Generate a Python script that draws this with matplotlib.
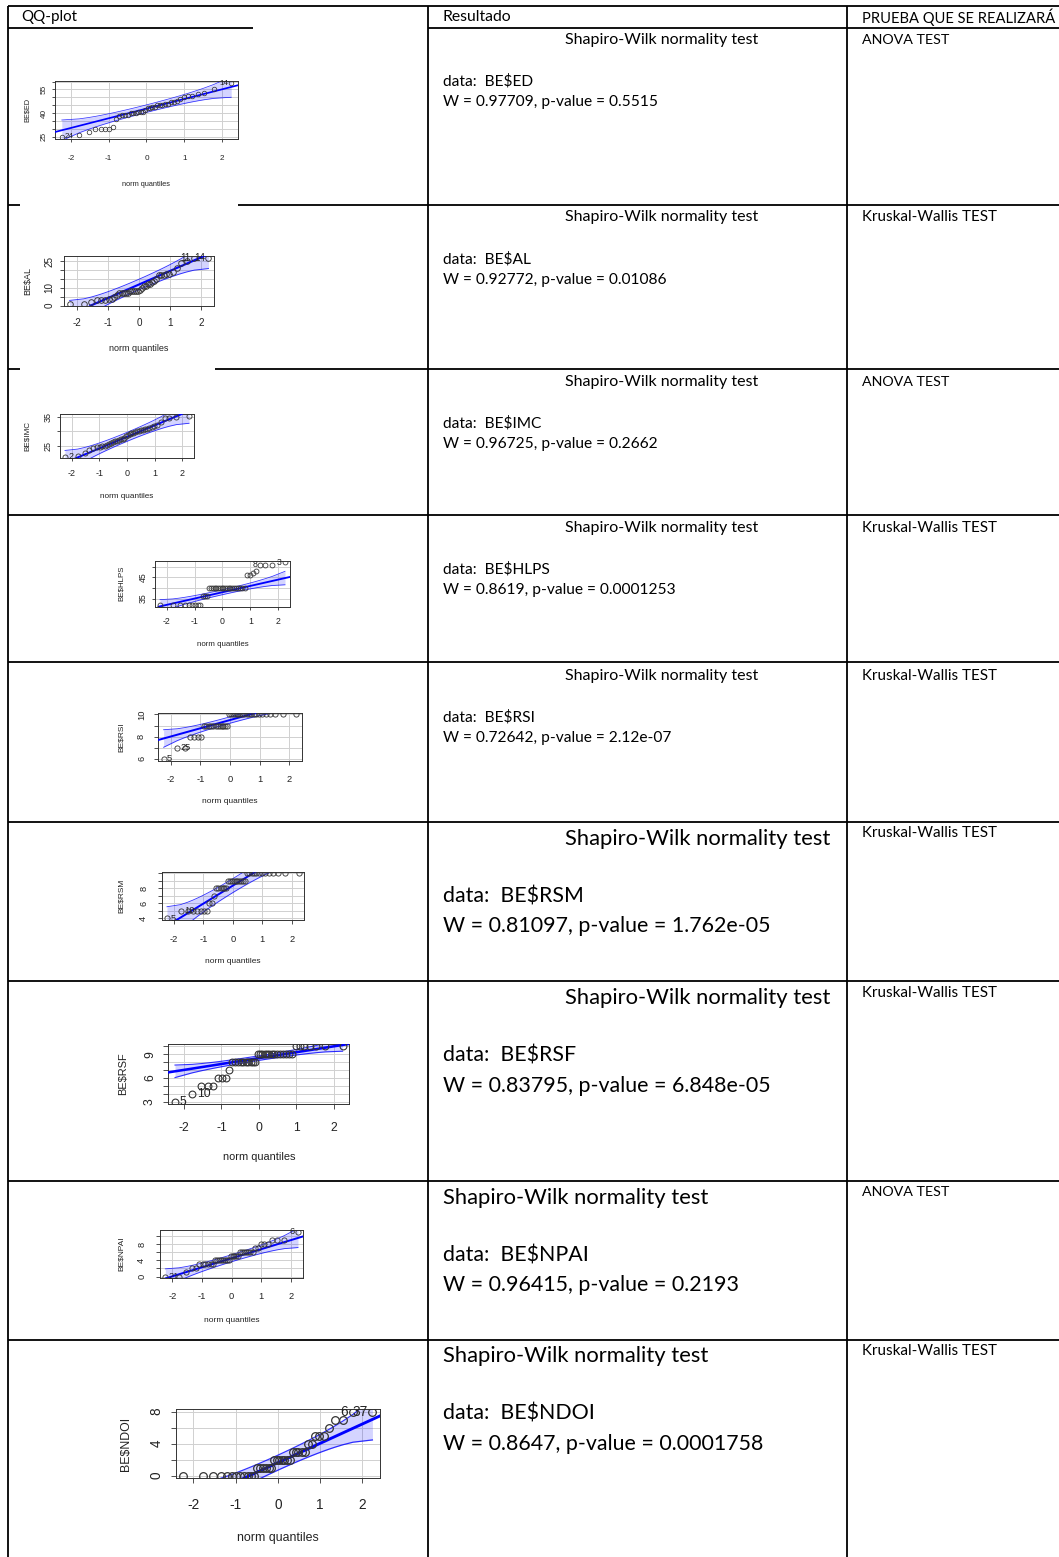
import matplotlib
matplotlib.use("Agg")
import matplotlib.pyplot as plt
import numpy as np
from statistics import NormalDist

# ---------------- data ----------------
header = ["QQ-plot", "Resultado", "PRUEBA QUE SE REALIZARÁ"]
variables = ["ED", "AL", "IMC", "HLPS", "RSI", "RSM", "RSF", "NPAI", "NDOI"]
w_values = ["0.97709", "0.92772", "0.96725", "0.8619", "0.72642",
            "0.81097", "0.83795", "0.96415", "0.8647"]
p_values = ["0.5515", "0.01086", "0.2662", "0.0001253", "2.12e-07",
            "1.762e-05", "6.848e-05", "0.2193", "0.0001758"]
tests = ["ANOVA TEST", "Kruskal-Wallis TEST", "ANOVA TEST", "Kruskal-Wallis TEST",
         "Kruskal-Wallis TEST", "Kruskal-Wallis TEST", "Kruskal-Wallis TEST",
         "ANOVA TEST", "Kruskal-Wallis TEST"]

ED = [25, 26, 28, 30, 30, 30, 30, 31, 36, 38, 39, 39, 39, 40, 40, 40, 41, 41, 41, 42,
      43, 43, 44, 44, 45, 45, 45, 46, 46, 47, 47, 48, 49, 50, 51, 51, 52, 53, 55, 59]
AL = [1, 1, 2, 3, 3, 3, 4, 4, 5, 6, 7, 7, 7, 7, 7, 8, 8, 8, 8, 8,
      9, 10, 11, 11, 12, 12, 13, 14, 15, 17, 17, 17, 18, 18, 19, 21, 24, 25, 27, 27]
IMC = [21.1, 21.4, 22.5, 23.5, 24.3, 24.4, 24.5, 24.8, 25.0, 25.2, 25.4, 25.8, 26.2, 26.5,
       26.8, 27.0, 27.2, 27.5, 27.8, 28.3, 28.8, 29.0, 29.3, 29.6, 29.8, 30.0, 30.2, 30.4,
       30.6, 30.8, 31.0, 31.2, 31.5, 31.8, 32.2, 33.5, 34.6, 34.8, 35.0, 35.6]
HLPS = [32, 32, 32, 32, 32, 32, 32, 32, 32, 36, 36, 36, 40, 40, 40, 40, 40, 40, 40, 40,
        40, 40, 40, 40, 40, 40, 40, 40, 40, 40, 40, 40, 46, 46, 47, 48, 51, 51, 51, 52]
RSI = [6, 7, 7, 8, 8, 8, 8, 9, 9, 9, 9, 9, 9, 9, 9, 9, 9, 9, 9, 10,
       10, 10, 10, 10, 10, 10, 10, 10, 10, 10, 10, 10, 10, 10, 10, 10, 10, 10, 10, 10]
RSM = [4, 5, 5, 5, 5, 5, 5, 5, 6, 6, 7, 8, 8, 8, 8, 8, 8, 9, 9, 9,
       9, 9, 9, 9, 9, 9, 9, 10, 10, 10, 10, 10, 10, 10, 10, 10, 10, 10, 10, 10]
RSF = [3, 4, 5, 5, 5, 6, 6, 6, 7, 8, 8, 8, 8, 8, 8, 8, 8, 8, 8, 9,
       9, 9, 9, 9, 9, 9, 9, 9, 9, 9, 9, 9, 9, 10, 10, 10, 10, 10, 10, 10]
NPAI = [0, 0, 1, 2, 2, 3, 3, 3, 3, 3, 3, 4, 4, 4, 4, 4, 4, 4, 4, 5,
        5, 5, 5, 5, 6, 6, 6, 6, 6, 6, 6, 7, 7, 8, 8, 8, 9, 9, 9, 11]
NDOI = [0, 0, 0, 0, 0, 0, 0, 0, 0, 0, 0, 0, 1, 1, 1, 1, 1, 1, 2, 2,
        2, 2, 2, 2, 2, 3, 3, 3, 3, 3, 4, 4, 5, 5, 5, 6, 7, 7, 8, 8]
samples = [ED, AL, IMC, HLPS, RSI, RSM, RSF, NPAI, NDOI]

y_ticks = [[25, 30, 35, 40, 45, 50, 55, 60], [0, 5, 10, 15, 20, 25], [25, 30, 35],
           [35, 40, 45, 50], [6, 7, 8, 9, 10], [4, 5, 6, 7, 8, 9, 10],
           [3, 4, 5, 6, 7, 8, 9, 10], [0, 2, 4, 6, 8, 10], [0, 2, 4, 6, 8]]
y_tick_labels = [["25", "", "", "40", "", "", "55", ""], ["0", "", "10", "", "", "25"],
                 ["25", "", "35"], ["35", "", "45", ""], ["6", "", "8", "", "10"],
                 ["4", "", "6", "", "8", "", ""], ["3", "", "", "6", "", "", "9", ""],
                 ["0", "", "4", "", "8", ""], ["0", "", "4", "", "8"]]
x_ticks = [-2, -1, 0, 1, 2]
x_tick_labels = ["-2", "-1", "0", "1", "2"]
point_ids = [[(0, "24"), (39, "14")], [(38, "11"), (39, "14")], [(0, "2")],
             [(36, "8"), (39, "3")], [(0, "5"), (1, "25")], [(0, "5"), (1, "10")],
             [(0, "5"), (1, "10")], [(0, "21"), (39, "6")], [(38, "6"), (39, "37")]]

# ---------------- layout (pixels) ----------------
W, H = 1059, 1557
boxes = [(55, 81, 238, 139), (64, 255.7, 214, 305.7), (60, 414, 194, 458.3),
         (155, 560.7, 290, 606.7), (158.3, 712.7, 301.7, 760.7), (161.7, 871.7, 304, 920),
         (168.3, 1044, 349.3, 1104), (160, 1230, 303.3, 1278.3), (175.7, 1409, 380, 1478.3)]
font_pt = [5.3, 6.5, 5.9, 5.7, 6.05, 6.05, 7.9, 6.05, 8.9]
xtick_off = [20, 17.6, 15, 14.3, 18.3, 19, 24.3, 18.3, 26.7]
xlab_off = [46, 42.6, 37.7, 38.3, 41, 41, 52.7, 41.7, 60]
ytick_off = [10.7, 14.7, 12.3, 11.7, 16.7, 18, 18.3, 18.3, 19]
ylab_off = [27.7, 36.7, 32.7, 33.3, 36.7, 40, 45, 38.3, 49.7]

title_y = [40, 217, 382, 528, 676, 839, 998, 1198, 1356]
data_y = [81, 259, 423, 569, 717, 896, 1056, 1255, 1414]
w_y = [102, 280, 444, 590, 738, 926, 1086, 1285, 1444]
test_y = [40, 217, 382, 528, 676, 833, 993, 1192, 1351]
big_text = [False, False, False, False, False, True, True, True, True]
title_x = [565, 565, 565, 565, 565, 565, 565, 443, 443]

TABLE_FONT = ["Lato", "DejaVu Sans"]
PLOT_FONT = ["Liberation Sans", "DejaVu Sans"]

fig = plt.figure(figsize=(W / 100, H / 100), dpi=100)
bg = fig.add_axes([0, 0, 1, 1])
bg.set_xlim(0, W)
bg.set_ylim(H, 0)
bg.axis("off")
renderer = fig.canvas.get_renderer()


def fit_size(s, target_px):
    t = fig.text(0, 0, s, fontsize=10, family=TABLE_FONT)
    w = t.get_window_extent(renderer).width
    t.remove()
    return 10 * target_px / w


title_small = fit_size("Shapiro-Wilk normality test", 193)
title_big = fit_size("Shapiro-Wilk normality test", 266)
body_small = fit_size("W = 0.97709, p-value = 0.5515", 213)
body_big = fit_size("W = 0.81097, p-value = 1.762e-05", 327)
header_sizes = [fit_size(header[0], 56), fit_size(header[1], 69), fit_size(header[2], 192)]
test_sizes = {"ANOVA TEST": fit_size("ANOVA TEST", 87),
              "Kruskal-Wallis TEST": fit_size("Kruskal-Wallis TEST", 134)}

# ---------------- table lines ----------------
lw = 1.3
hsegs = [(6, 8, 1059), (28, 8, 253), (28, 428, 1059),
         (205, 8, 20), (205, 238, 1059), (369, 8, 20), (369, 215, 1059),
         (515, 8, 1059), (662, 8, 1059), (822, 8, 1059), (981, 8, 1059),
         (1181, 8, 1059), (1340, 8, 1059)]
for y, x0, x1 in hsegs:
    bg.plot([x0, x1], [y, y], color="black", lw=lw, solid_capstyle="butt")
for x in [8, 428, 847]:
    bg.plot([x, x], [6, H], color="black", lw=lw, solid_capstyle="butt")

# ---------------- table text ----------------
for hx, htxt, hfs in zip([21, 443, 862], header, header_sizes):
    bg.text(hx, 17, htxt, fontsize=hfs, family=TABLE_FONT, va="center", ha="left")

for i, v in enumerate(variables):
    tfs = title_big if big_text[i] else title_small
    bfs = body_big if big_text[i] else body_small
    bg.text(title_x[i], title_y[i], "Shapiro-Wilk normality test", fontsize=tfs,
            family=TABLE_FONT, va="center", ha="left")
    bg.text(443, data_y[i], "data:  BE\\$" + v, fontsize=bfs,
            family=TABLE_FONT, va="center", ha="left")
    bg.text(443, w_y[i], "W = %s, p-value = %s" % (w_values[i], p_values[i]),
            fontsize=bfs, family=TABLE_FONT, va="center", ha="left")
    bg.text(862, test_y[i], tests[i], fontsize=test_sizes[tests[i]], family=TABLE_FONT,
            va="center", ha="left")

# ---------------- QQ plots ----------------
nd = NormalDist()
for k, (vname, data) in enumerate(zip(variables, samples)):
    x = np.sort(np.asarray(data, dtype=float))
    n = len(x)
    P = (np.arange(1, n + 1) - 0.5) / n
    z = np.array([nd.inv_cdf(p) for p in P])
    dens = np.array([nd.pdf(q) for q in z])
    q1, q3 = np.percentile(x, [25, 75])
    z1, z3 = nd.inv_cdf(0.25), nd.inv_cdf(0.75)
    slope = (q3 - q1) / (z3 - z1)
    inter = q1 - slope * z1
    fit = inter + slope * z
    se = (slope / dens) * np.sqrt(P * (1 - P) / n)
    zz = nd.inv_cdf(0.975)
    upper, lower = fit + zz * se, fit - zz * se

    L, T, R, B = boxes[k]
    ax = fig.add_axes([L / W, 1 - B / H, (R - L) / W, (B - T) / H])
    fs = font_pt[k]
    tfs = fs * 1.1
    fspx = fs * 100 / 72
    ticklen_px = 0.42 * fspx
    xr = z.max() - z.min()
    yr = x.max() - x.min()
    ax.set_xlim(z.min() - 0.04 * xr, z.max() + 0.04 * xr)
    ax.set_ylim(x.min() - 0.04 * yr, x.max() + 0.04 * yr)

    ax.set_xticks(x_ticks)
    ax.set_xticklabels(x_tick_labels)
    ax.set_yticks(y_ticks[k])
    ax.set_yticklabels(y_tick_labels[k])
    for g in x_ticks:
        ax.axvline(g, color="#d0d0d0", lw=0.7, zorder=0)
    for g in y_ticks[k]:
        ax.axhline(g, color="#d0d0d0", lw=0.7, zorder=0)

    ax.fill_between(z, lower, upper, color="blue", alpha=0.17, lw=0, zorder=1)
    ax.plot(z, upper, color="blue", lw=0.6 * fs / 6, alpha=0.8, zorder=2)
    ax.plot(z, lower, color="blue", lw=0.6 * fs / 6, alpha=0.8, zorder=2)
    ax.axline((0, inter), slope=slope, color="blue", lw=1.4 * fs / 6, zorder=3)
    ax.plot(z, x, linestyle="none", marker="o", markersize=0.62 * fs,
            markerfacecolor="none", markeredgecolor="#333333",
            markeredgewidth=0.6 * fs / 6, zorder=4)
    for idx, lab in point_ids[k]:
        if z[idx] > 0:
            ax.annotate(lab, (z[idx], x[idx]), xytext=(-0.4 * fs, 0),
                        textcoords="offset points", ha="right", va="center",
                        fontsize=tfs, family=PLOT_FONT, color="#222222", zorder=5)
        else:
            ax.annotate(lab, (z[idx], x[idx]), xytext=(0.4 * fs, 0),
                        textcoords="offset points", ha="left", va="center",
                        fontsize=tfs, family=PLOT_FONT, color="#222222", zorder=5)

    for sp in ax.spines.values():
        sp.set_color("#333333")
        sp.set_linewidth(0.7)
    tl_pt = ticklen_px * 72 / 100
    ax.tick_params(axis="both", direction="out", length=tl_pt, width=0.6,
                   color="#333333", labelsize=tfs, labelcolor="#222222")
    ax.tick_params(axis="x", pad=(xtick_off[k] - ticklen_px) * 72 / 100)
    ax.tick_params(axis="y", pad=(ytick_off[k] - ticklen_px) * 72 / 100)
    for lab in ax.get_xticklabels():
        lab.set_va("center")
        lab.set_family(PLOT_FONT)
    for lab in ax.get_yticklabels():
        lab.set_rotation(90)
        lab.set_va("center")
        lab.set_ha("center")
        lab.set_family(PLOT_FONT)
    ax.text(0.5, -xlab_off[k] / (B - T), "norm quantiles", transform=ax.transAxes,
            ha="center", va="center", fontsize=fs, family=PLOT_FONT, color="#222222")
    ax.text(-ylab_off[k] / (R - L), 0.5, "BE\\$" + vname, transform=ax.transAxes,
            ha="center", va="center", rotation=90, fontsize=fs, family=PLOT_FONT,
            color="#222222")

fig.savefig("out.png", dpi=100)
